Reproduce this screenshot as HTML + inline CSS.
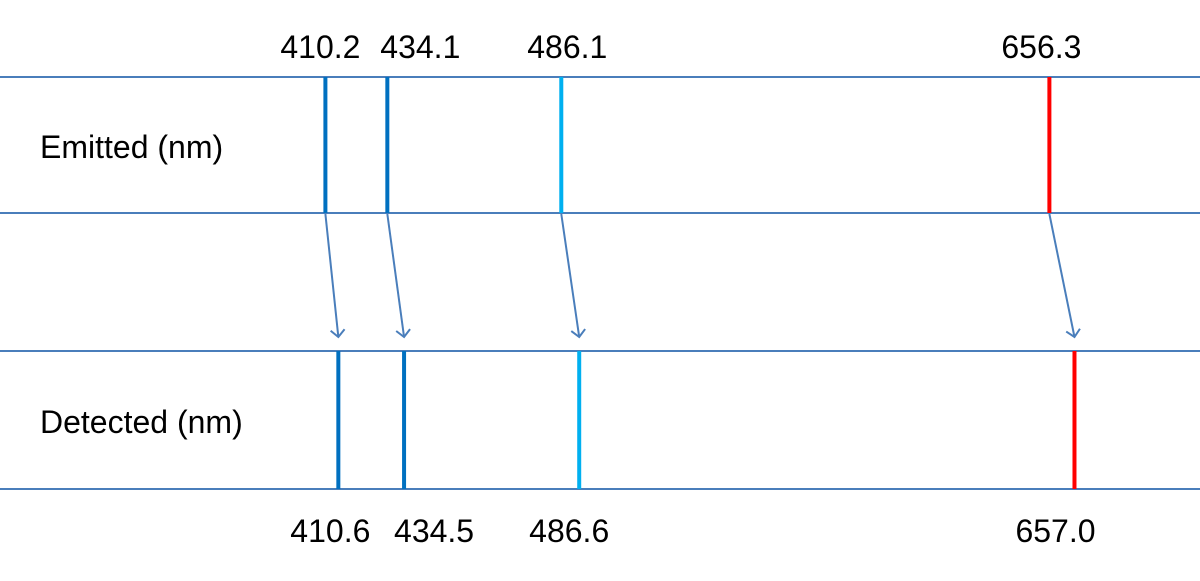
<!DOCTYPE html>
<html><head><meta charset="utf-8"><style>
html,body{margin:0;padding:0;background:#fff;}
svg text{font-family:"Liberation Sans",sans-serif;font-size:32px;fill:#000;}
</style></head><body>
<svg id="chart" width="1200" height="576" viewBox="0 0 1200 576" xmlns="http://www.w3.org/2000/svg">
<defs><marker id="ah" markerWidth="16" markerHeight="16" refX="8" refY="8" orient="auto" markerUnits="userSpaceOnUse">
<path d="M1,1 L8,8 L1,15" fill="none" stroke="#4A7EBB" stroke-width="2"/></marker></defs>
<g id="frame"></g><g id="marks"></g>
</svg>
<script>
const emitted=[410.2,434.1,486.1,656.3];
const detected=[410.6,434.5,486.6,657.0];
const emittedLabels=["410.2","434.1","486.1","656.3"];
const detectedLabels=["410.6","434.5","486.6","657.0"];
const lineColors=["#0070C0","#0070C0","#00B0F0","#FF0000"];
const topDx=[-5,33,6,-8];
const botDx=[-8,30,-10,-19];
const NS="http://www.w3.org/2000/svg";
const knotD=[400,434,486,660], knotR=[299,387,561,1060];
function xScale(v){
 for(let i=0;i<knotD.length-2;i++){ if(v<=knotD[i+1]) return knotR[i]+(v-knotD[i])*(knotR[i+1]-knotR[i])/(knotD[i+1]-knotD[i]); }
 const n=knotD.length-2; return knotR[n]+(v-knotD[n])*(knotR[n+1]-knotR[n])/(knotD[n+1]-knotD[n]);
}
function shift(e,d){return (xScale(d)-xScale(e))*12.5;}
function mk(tag,attrs,parent){const el=document.createElementNS(NS,tag);for(const k in attrs)el.setAttribute(k,attrs[k]);parent.appendChild(el);return el;}
const frame=document.getElementById('frame'),marks=document.getElementById('marks');
const rows=[77,213,351,489];
rows.forEach((y,i)=>{const l=mk('line',{x1:0,x2:1200,y1:y,y2:y,stroke:'#4A7EBB','stroke-width':2},frame);

});
let t=mk('text',{x:40,y:158},frame);t.textContent="Emitted (nm)";


t=mk('text',{x:40,y:433},frame);t.textContent="Detected (nm)";


emitted.forEach((e,i)=>{
 const x1=xScale(e), x2=x1+shift(e,detected[i]);
 let a=mk('line',{x1:x1,x2:x1,y1:77,y2:213,stroke:lineColors[i],'stroke-width':4},marks);
 
 
 a=mk('line',{x1:x2,x2:x2,y1:351,y2:489,stroke:lineColors[i],'stroke-width':4},marks);
 
 
 a=mk('line',{x1:x1,y1:214,x2:x2,y2:337,stroke:'#4A7EBB','stroke-width':2,'marker-end':'url(#ah)'},marks);
 
 
 a=mk('text',{x:x1+topDx[i],y:58,'text-anchor':'middle'},marks);a.textContent=emittedLabels[i];
 
 
 a=mk('text',{x:x2+botDx[i],y:542,'text-anchor':'middle'},marks);a.textContent=detectedLabels[i];
 
 
});
</script>
</body></html>
